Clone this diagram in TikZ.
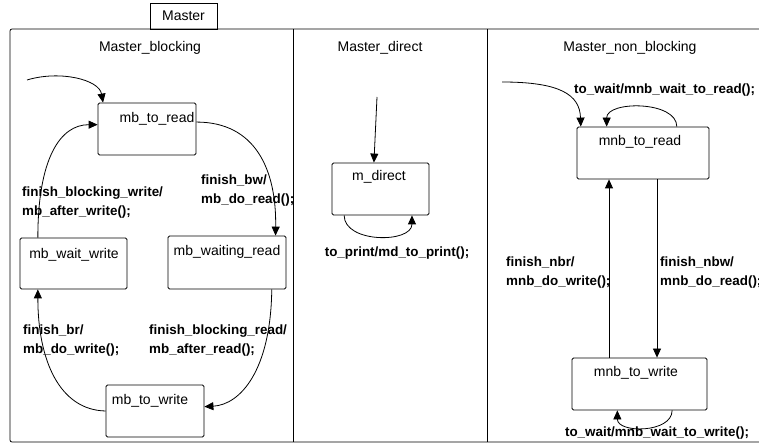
\documentclass[tikz,border=0pt]{standalone}
\usepackage{fontspec}
\setmainfont{Liberation Sans}
\usetikzlibrary{arrows.meta}
\tikzset{
  statebox/.style={draw, rounded corners=1.5bp, inner sep=0pt, line width=0.8bp},
  statename/.style={anchor=base, inner sep=0pt, font=\fontsize{14bp}{16bp}\selectfont},
  regiontitle/.style={inner sep=0pt, font=\fontsize{14bp}{16bp}\selectfont},
  translabel/.style={anchor=west, align=left, inner sep=0pt, font=\fontsize{13.4bp}{19bp}\selectfont\bfseries},
  trans/.style={line width=0.8bp, -{Triangle[length=9bp,width=8bp]}},
}
\begin{document}
\begin{tikzpicture}[x=1bp,y=-1bp]
\useasboundingbox (0,0) rectangle (759,444);
\draw[line width=0.8bp, rounded corners=2bp] (10,29) rectangle (790,442);
\draw[line width=0.8bp] (293,29) -- (293,442);
\draw[line width=0.8bp] (487,29) -- (487,442);
\node[draw, line width=0.8bp, minimum width=67bp, minimum height=26bp, regiontitle] (master) at (183.5,16) {Master};
\node[regiontitle] (blocking) at (150,48) {Master\_blocking};
\node[regiontitle] (direct) at (380,48) {Master\_direct};
\node[regiontitle] (nonblocking) at (630,48) {Master\_non\_blocking};

\node[statebox, minimum width=98bp, minimum height=52bp] (toread) at (147,129) {};
\node[statebox, minimum width=107bp, minimum height=51bp] (waitwrite) at (73.5,263.5) {};
\node[statebox, minimum width=118bp, minimum height=53bp] (waitread) at (227,262.5) {};
\node[statebox, minimum width=98bp, minimum height=52bp] (towrite) at (155,411) {};
\node[statebox, minimum width=97bp, minimum height=52bp] (mdirect) at (380.5,189) {};
\node[statebox, minimum width=132bp, minimum height=52bp] (mnbread) at (643,153) {};
\node[statebox, minimum width=135bp, minimum height=52bp] (mnbwrite) at (639.5,384) {};

\node[statename] (toreadname) at (157,123) {mb\_to\_read};
\node[statename] (waitwritename) at (74,259) {mb\_wait\_write};
\node[statename] (waitreadname) at (227,256) {mb\_waiting\_read};
\node[statename] (towritename) at (150,404) {mb\_to\_write};
\node[statename] (mdirectname) at (379,181) {m\_direct};
\node[statename] (mnbreadname) at (640,146) {mnb\_to\_read};
\node[statename] (mnbwritename) at (636,377) {mnb\_to\_write};

\coordinate (ini1) at (27,80);
\coordinate (ini2) at (377,97);
\coordinate (ini3) at (502,82);
\draw[trans] (ini1) .. controls +(33,-10) and +(-4,-23) .. (toread.149);
\draw[trans] (toread.8) .. controls +(59,0) and +(1,-66) .. (waitread.29);
\draw[trans] (waitread.-31) .. controls +(-1,81) and +(36,-2) .. (towrite.5);
\draw[trans] (towrite.west) .. controls +(-46,-1) and +(0,71) .. (waitwrite.-144);
\draw[trans] (waitwrite.144) .. controls +(0,-78) and +(-38,0) .. (toread.175);
\draw[trans] (ini2) -- (mdirect.104);
\draw[trans] (mdirect.-144) .. controls +(0,28) and +(0,28) .. (mdirect.-40);
\draw[trans] (ini3) .. controls +(58,0) and +(-1,-32) .. (mnbread.157);
\draw[trans] (mnbread.38) .. controls +(0,-26) and +(0,-26) .. (mnbread.144);
\draw[trans] ([xshift=-30.5bp]mnbwrite.north) coordinate (up) -- (up |- mnbread.south);
\draw[trans] ([xshift=14bp]mnbread.south) coordinate (down) -- (down |- mnbwrite.north);
\draw[trans] (mnbwrite.-39) .. controls +(0,23) and +(0,23) .. (mnbwrite.-130);

\node[translabel] (afterwrite) at (22,203) {finish\_blocking\_write/\\mb\_after\_write();};
\node[translabel] (doread) at (201,191) {finish\_bw/\\mb\_do\_read();};
\node[translabel] (dowrite) at (23,341) {finish\_br/\\mb\_do\_write();};
\node[translabel] (afterread) at (149,341) {finish\_blocking\_read/\\mb\_after\_read();};
\node[translabel, anchor=center] (toprint) at (397,253) {to\_print/md\_to\_print();};
\node[translabel] (waitread2) at (574,90) {to\_wait/mnb\_wait\_to\_read();};
\node[translabel] (nbr) at (506,273) {finish\_nbr/\\mnb\_do\_write();};
\node[translabel] (nbw) at (660,273) {finish\_nbw/\\mnb\_do\_read();};
\node[translabel, anchor=center] (waitwrite2) at (657,433) {to\_wait/mnb\_wait\_to\_write();};
\end{tikzpicture}
\end{document}
